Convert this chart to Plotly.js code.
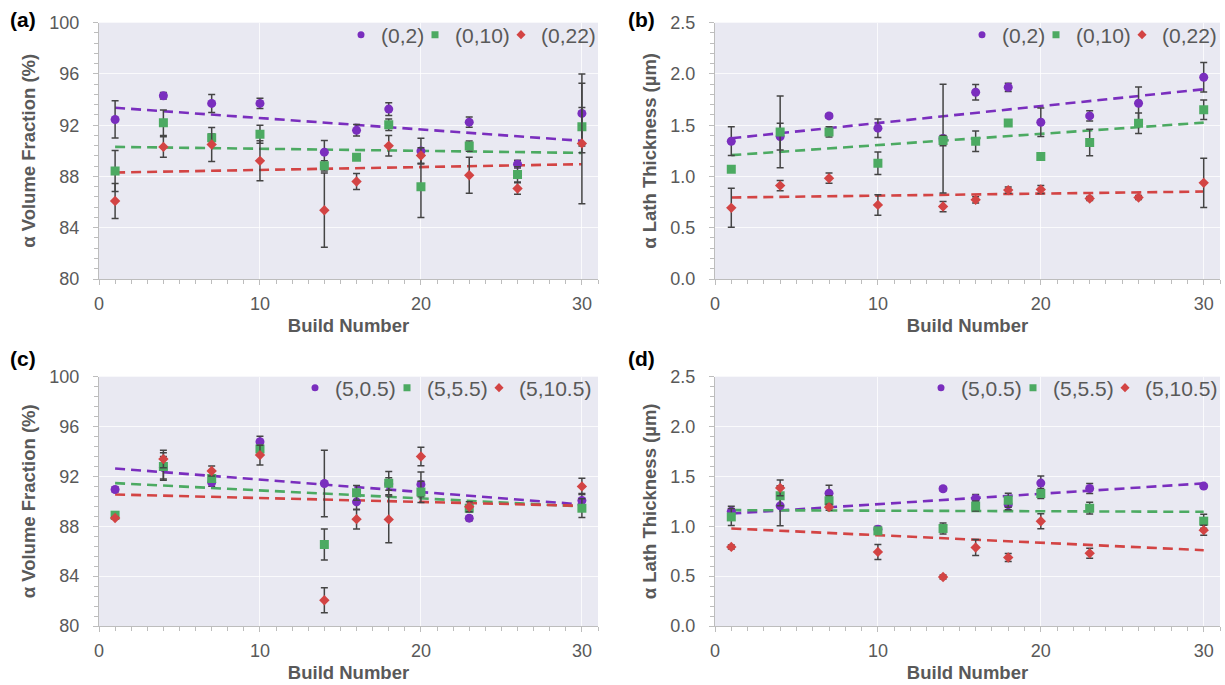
<!DOCTYPE html>
<html>
<head>
<meta charset="utf-8">
<script src="https://cdn.plot.ly/plotly-3.0.1.min.js"></script>
<style>html,body{margin:0;padding:0;background:#fff;}#chart{width:1225px;height:685px;}</style>
</head>
<body>
<div id="chart"></div>
<script>
// ---------- DATA ----------
const buildsTop = [1, 4, 7, 10, 14, 16, 18, 20, 23, 26, 30];
const buildsBot = [1, 4, 7, 10, 14, 16, 18, 20, 23, 30];
const fitX = [1, 30];

// (a) alpha volume fraction (%) – locations (0,2), (0,10), (0,22)
const volA_02      = [92.45, 94.3, 93.7, 93.7, 89.9, 91.6, 93.26, 89.98, 92.24, 88.96, 92.92];
const volA_02_err  = [1.45, 0.25, 0.7, 0.4, 0.9, 0.45, 0.5, 1.0, 0.4, 0.3, 3.07];
const volA_010     = [88.42, 92.19, 91.02, 91.3, 88.83, 89.5, 92.03, 87.19, 90.37, 88.16, 91.88];
const volA_010_err = [1.6, 1.0, 0.3, 0.7, 0.4, 0, 0.45, 2.4, 0.4, 0.6, 1.5];
const volA_022     = [86.09, 90.31, 90.5, 89.22, 85.37, 87.61, 90.39, 89.64, 88.1, 87.06, 90.58];
const volA_022_err = [1.37, 0.8, 1.33, 1.56, 2.9, 0.62, 0.8, 0.6, 1.4, 0.45, 4.7];
const fitA_02  = [93.36, 90.78];
const fitA_010 = [90.31, 89.84];
const fitA_022 = [88.31, 88.96];

// (b) alpha lath thickness (um)
const lathB_02      = [1.344, 1.389, 1.591, 1.471, 1.37, 1.822, 1.87, 1.529, 1.591, 1.714, 1.968];
const lathB_02_err  = [0.14, 0.13, 0.02, 0.09, 0.53, 0.075, 0.04, 0.14, 0.05, 0.16, 0.145];
const lathB_010     = [1.07, 1.435, 1.435, 1.13, 1.35, 1.344, 1.522, 1.194, 1.331, 1.52, 1.652];
const lathB_010_err = [0.02, 0.35, 0.05, 0.11, 0.05, 0.1, 0.03, 0.02, 0.13, 0.1, 0.095];
const lathB_022     = [0.694, 0.911, 0.983, 0.723, 0.707, 0.772, 0.867, 0.873, 0.785, 0.795, 0.938];
const lathB_022_err = [0.19, 0.05, 0.05, 0.1, 0.05, 0.03, 0.03, 0.04, 0.02, 0.02, 0.24];
const fitB_02  = [1.373, 1.851];
const fitB_010 = [1.208, 1.525];
const fitB_022 = [0.795, 0.853];

// (c) alpha volume fraction (%) – locations (5,0.5), (5,5.5), (5,10.5)
const volC_05      = [90.95, 92.7, 91.52, 94.78, 91.43, 89.96, 91.4, 91.36, 88.65, 90.07];
const volC_05_err  = [0.2, 0.9, 0.3, 0.45, 2.66, 0.64, 0.5, 1.0, 0.2, 0.55];
const volC_55      = [88.89, 92.8, 91.84, 94.19, 86.54, 90.68, 91.46, 90.76, 89.45, 89.45];
const volC_55_err  = [0.15, 1.1, 0.3, 0.3, 1.25, 0.6, 0.94, 0.85, 0.3, 0.75];
const volC_105     = [88.67, 93.39, 92.43, 93.71, 82.06, 88.57, 88.55, 93.6, 89.56, 91.2];
const volC_105_err = [0.1, 0.7, 0.4, 0.8, 1.0, 0.79, 1.88, 0.75, 0.4, 0.66];
const fitC_05  = [92.64, 89.75];
const fitC_55  = [91.46, 89.59];
const fitC_105 = [90.55, 89.64];

// (d) alpha lath thickness (um)
const lathD_05      = [1.15, 1.205, 1.332, 0.971, 1.376, 1.279, 1.217, 1.433, 1.379, 1.403];
const lathD_05_err  = [0.05, 0.2, 0.08, 0.03, 0.02, 0.04, 0.05, 0.07, 0.05, 0.02];
const lathD_55      = [1.094, 1.305, 1.255, 0.954, 0.978, 1.203, 1.262, 1.329, 1.182, 1.051];
const lathD_55_err  = [0.085, 0.1, 0.05, 0.03, 0.055, 0.05, 0.07, 0.05, 0.06, 0.07];
const lathD_105     = [0.793, 1.385, 1.192, 0.743, 0.492, 0.787, 0.687, 1.051, 0.73, 0.961];
const lathD_105_err = [0.02, 0.08, 0.03, 0.075, 0.02, 0.08, 0.04, 0.075, 0.05, 0.05];
const fitD_05  = [1.128, 1.43];
const fitD_55  = [1.162, 1.145];
const fitD_105 = [0.978, 0.76];

const namesTop = ['(0,2)', '(0,10)', '(0,22)'];
const namesBot = ['(5,0.5)', '(5,5.5)', '(5,10.5)'];

// ---------- STYLE ----------
const COLORS = ['#7a2ebe', '#4caa62', '#d34444'];
const SYMBOLS = ['circle', 'square', 'diamond'];
const SIZES = [9, 9, 8];
const FONT = 'Liberation Sans, Arial, sans-serif';
const GREY = '#595959';
const W = 1225, H = 685;

// legend symbol centres (px) per panel, and legend row centre (px)
const legendPos = [
  {xs: [361, 435, 521], y: 35},
  {xs: [982, 1056, 1142], y: 35},
  {xs: [315, 407, 499], y: 388},
  {xs: [941, 1033, 1125], y: 388}
];

const traces = [];
const legends = {};
function addPanel(k, x, ys, errs, fits, names) {
  const xa = k === 1 ? 'x' : 'x' + k;
  const ya = k === 1 ? 'y' : 'y' + k;
  for (let i = 0; i < 3; i++) {
    traces.push({
      x: fitX, y: fits[i], xaxis: xa, yaxis: ya, mode: 'lines', showlegend: false,
      hoverinfo: 'skip',
      line: {color: COLORS[i], width: 2.6, dash: '10px,6px'}
    });
  }
  for (let i = 0; i < 3; i++) {
    traces.push({
      x: x, y: ys[i], xaxis: xa, yaxis: ya, mode: 'markers', name: names[i],
      showlegend: false,
      marker: {color: COLORS[i], symbol: SYMBOLS[i], size: SIZES[i], line: {width: 0}},
      error_y: {type: 'data', array: errs[i], visible: true, color: '#444444', thickness: 1.5, width: 3.5}
    });
  }
  // legend entries (small markers as in the reference), one legend box per entry
  for (let i = 0; i < 3; i++) {
    const n = (k - 1) * 3 + i + 1;
    const lg = n === 1 ? 'legend' : 'legend' + n;
    legends[lg] = {
      x: (legendPos[k - 1].xs[i] - 10) / W, xanchor: 'left',
      y: 1 - legendPos[k - 1].y / H, yanchor: 'middle', orientation: 'h',
      bgcolor: 'rgba(0,0,0,0)', borderwidth: 0, indentation: -10,
      font: {family: FONT, size: 21, color: GREY}, itemwidth: 30
    };
    traces.push({
      x: [null], y: [null], xaxis: xa, yaxis: ya, mode: 'markers', name: names[i],
      legend: lg, showlegend: true,
      marker: {color: COLORS[i], symbol: SYMBOLS[i], size: 7, line: {width: 0}}
    });
  }
}

addPanel(1, buildsTop, [volA_02, volA_010, volA_022], [volA_02_err, volA_010_err, volA_022_err], [fitA_02, fitA_010, fitA_022], namesTop);
addPanel(2, buildsTop, [lathB_02, lathB_010, lathB_022], [lathB_02_err, lathB_010_err, lathB_022_err], [fitB_02, fitB_010, fitB_022], namesTop);
addPanel(3, buildsBot, [volC_05, volC_55, volC_105], [volC_05_err, volC_55_err, volC_105_err], [fitC_05, fitC_55, fitC_105], namesBot);
addPanel(4, buildsBot, [lathD_05, lathD_55, lathD_105], [lathD_05_err, lathD_55_err, lathD_105_err], [fitD_05, fitD_55, fitD_105], namesBot);

const domL = [99 / W, 598 / W], domR = [715 / W, 1220 / W];
const domT = [1 - 279 / H, 1 - 22.7 / H], domB = [1 - 626 / H, 1 - 376.7 / H];

function xAxis(dom, anchor) {
  return {
    domain: dom, anchor: anchor, range: [0, 31], tickvals: [0, 10, 20, 30],
    ticks: 'outside', ticklen: 5, tickwidth: 1, tickcolor: '#bdbdbd',
    showline: true, linecolor: '#bdbdbd', linewidth: 1, zeroline: false,
    showgrid: true, gridcolor: 'rgba(255,255,255,0.75)', gridwidth: 1,
    minor: {dtick: 1, ticks: 'outside', ticklen: 4, tickcolor: '#bdbdbd', showgrid: false},
    tickfont: {family: FONT, size: 18, color: GREY}, ticklabelstandoff: 3,
    title: {text: 'Build Number', font: {family: FONT, size: 18.5, color: GREY, weight: 'bold'}, standoff: 6}
  };
}
function yAxis(dom, anchor, range, dtick, minor, fmt, title) {
  return {
    domain: dom, anchor: anchor, range: range, dtick: dtick, tick0: range[0], tickformat: fmt,
    ticks: 'outside', ticklen: 5, tickwidth: 1, tickcolor: '#bdbdbd',
    showline: true, linecolor: '#bdbdbd', linewidth: 1, zeroline: false,
    showgrid: true, gridcolor: 'rgba(255,255,255,0.75)', gridwidth: 1,
    minor: {dtick: minor, ticks: 'outside', ticklen: 4, tickcolor: '#bdbdbd', showgrid: false},
    tickfont: {family: FONT, size: 18, color: GREY}, ticklabelstandoff: 10,
    title: {text: title, font: {family: FONT, size: 18.5, color: GREY, weight: 'bold'}, standoff: 8}
  };
}

const layout = Object.assign({
  width: W, height: H,
  margin: {l: 0, r: 0, t: 0, b: 0},
  paper_bgcolor: '#ffffff', plot_bgcolor: '#e9e9f2',
  font: {family: FONT, color: GREY},
  showlegend: true,
  xaxis: xAxis(domL, 'y'),
  yaxis: yAxis(domT, 'x', [80, 100], 4, 0.8, '', 'α Volume Fraction (%)'),
  xaxis2: xAxis(domR, 'y2'),
  yaxis2: yAxis(domT, 'x2', [0, 2.5], 0.5, 0.1, '.1f', 'α Lath Thickness (µm)'),
  xaxis3: xAxis(domL, 'y3'),
  yaxis3: yAxis(domB, 'x3', [80, 100], 4, 0.8, '', 'α Volume Fraction (%)'),
  xaxis4: xAxis(domR, 'y4'),
  yaxis4: yAxis(domB, 'x4', [0, 2.5], 0.5, 0.1, '.1f', 'α Lath Thickness (µm)'),
  annotations: [
    {text: '(a)', x: 8 / W, y: 1 - 20 / H},
    {text: '(b)', x: 626 / W, y: 1 - 20 / H},
    {text: '(c)', x: 8 / W, y: 1 - 358 / H},
    {text: '(d)', x: 626 / W, y: 1 - 358 / H}
  ].map(a => Object.assign(a, {
    xref: 'paper', yref: 'paper', xanchor: 'left', yanchor: 'middle', showarrow: false,
    font: {family: FONT, size: 21, color: '#000000', weight: 'bold'}
  }))
}, legends);

Plotly.newPlot('chart', traces, layout, {displayModeBar: false, staticPlot: true});
</script>
</body>
</html>
